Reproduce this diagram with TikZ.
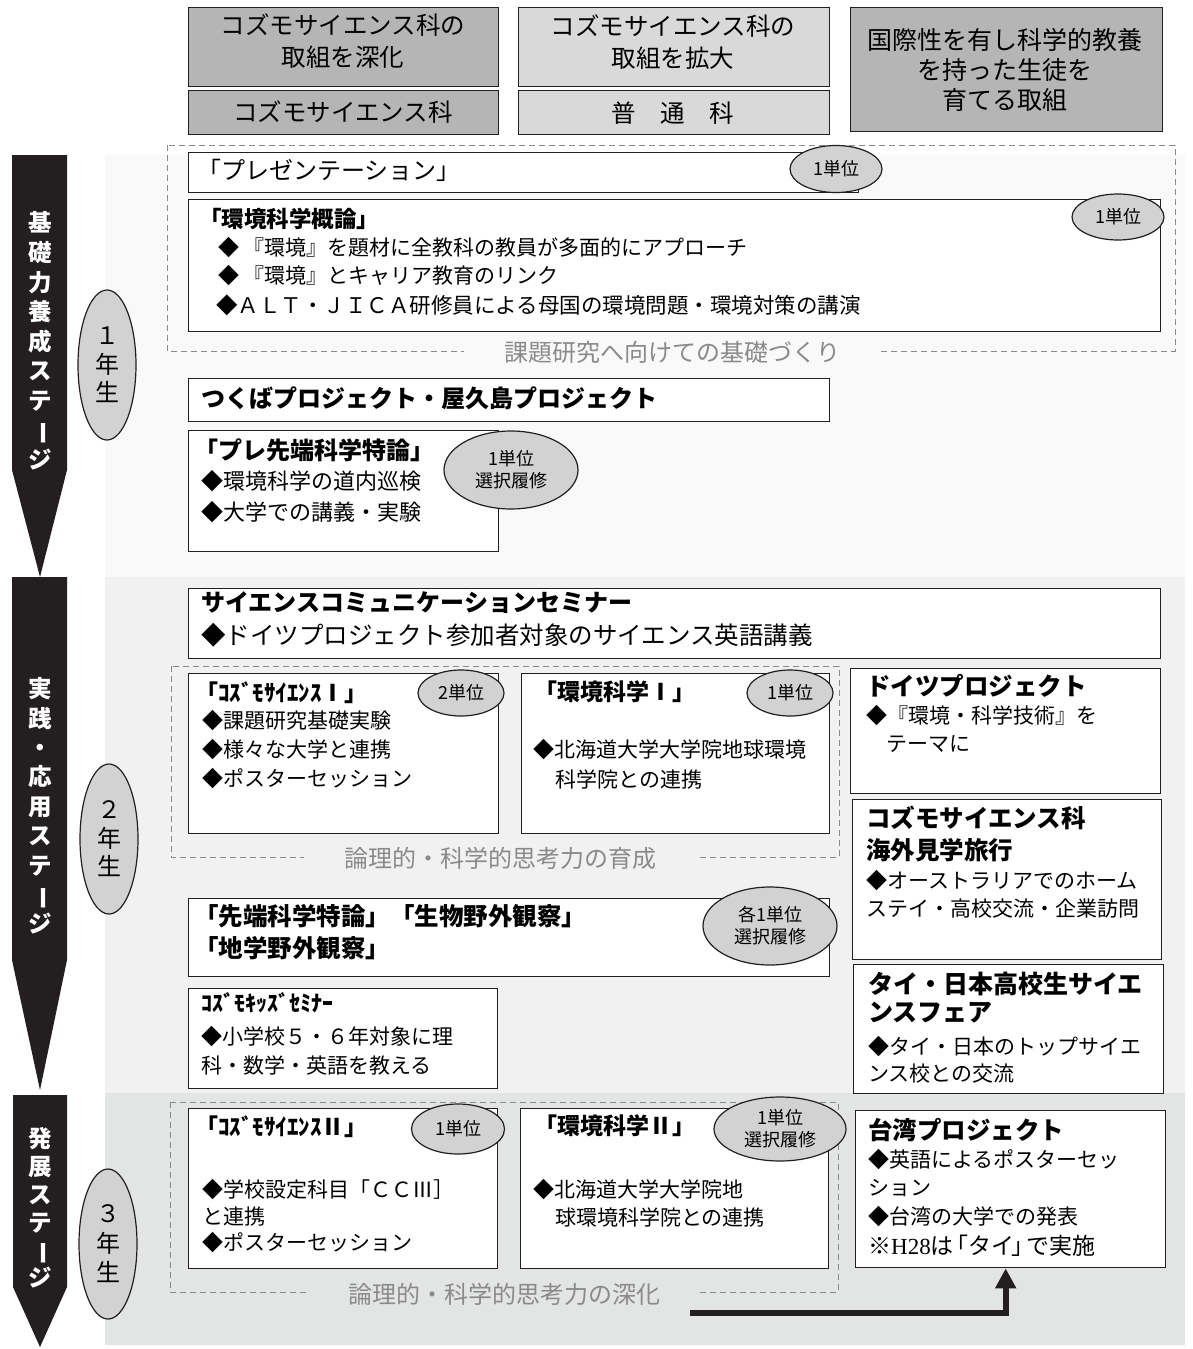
\documentclass[tikz,border=0pt]{standalone}
\usepackage{fontspec}
\setmainfont{Noto Sans CJK JP}
\newfontfamily\serifH{Liberation Serif}
\usetikzlibrary{shapes.geometric,arrows.meta}
\definecolor{ink}{HTML}{231F20}
\definecolor{hdark}{HTML}{B5B5B5}
\definecolor{hlight}{HTML}{D9D9D9}
\definecolor{egray}{HTML}{D2D2D2}
\definecolor{dgray}{HTML}{8A8A8A}
\definecolor{lgray}{HTML}{8A8A8A}
\definecolor{bandA}{HTML}{F9F9F9}
\definecolor{bandB}{HTML}{F1F1F1}
\definecolor{bandC}{HTML}{E3E4E4}
\tikzset{
 box/.style={draw=ink, line width=1.4pt, fill=white, inner sep=0pt, anchor=north west},
 dbox/.style={draw=dgray, line width=1pt, dash pattern=on 6pt off 4pt},
 unit/.style={ellipse, draw=ink, line width=1.2pt, fill=egray, inner sep=0pt, align=center, font=\fontsize{18}{22}\selectfont},
 yr/.style={ellipse, draw=ink, line width=1.2pt, fill=egray, inner sep=0pt, align=center, font=\fontsize{24}{28.5}\selectfont, minimum width=58pt, minimum height=150pt},
 stg/.style={text=white, align=center, inner sep=0pt, font=\bfseries\fontsize{23.5}{29.6}\selectfont},
 ttl/.style={anchor=west, inner sep=0pt, font=\bfseries\fontsize{24}{28}\selectfont},
 bul/.style={anchor=west, inner sep=0pt, font=\fontsize{21}{28}\selectfont},
 hdt/.style={inner sep=0pt, align=center, font=\fontsize{24.5}{32}\selectfont},
 lbl/.style={inner xsep=40pt, inner ysep=3pt, text=lgray, font=\fontsize{24}{28}\selectfont},
}
\newcommand\pbox[6][]{\node[box,#1, minimum width={#5pt-#3pt}, minimum height={#6pt-#4pt}] (#2) at (#3,#4) {};}
\newcommand\vbar{\rotatebox[origin=c]{-90}{ー}}
\begin{document}
\begin{tikzpicture}[x=1pt,y=-1pt]
\useasboundingbox (0,0) rectangle (1192,1349);
% bands
\fill[bandA] (105,155) rectangle (1185,577);
\fill[bandB] (105,577) rectangle (1185,1093);
\fill[bandC] (105,1093) rectangle (1185,1345);
% stage arrows
\fill[ink] (12,155) -- (67,155) -- (67,470) -- (40,577) -- (12,470) -- cycle;
\fill[ink] (12,577) -- (67,577) -- (67,960) -- (40,1090) -- (12,960) -- cycle;
\fill[ink] (13,1095) -- (67,1095) -- (67,1287) -- (40,1347) -- (13,1287) -- cycle;
\node[stg] (s1) at (40,341) {基\\礎\\力\\養\\成\\ス\\テ\\\vbar\\ジ};
\node[stg, font=\bfseries\fontsize{23.5}{29.4}\selectfont] (s2) at (40,806) {実\\践\\・\\応\\用\\ス\\テ\\\vbar\\ジ};
\node[stg, font=\bfseries\fontsize{23.5}{27.8}\selectfont] (s3) at (40,1208) {発\\展\\ス\\テ\\\vbar\\ジ};
% year ellipses
\node[yr] (y1) at (107,365) {１\\年\\生};
\node[yr] (y2) at (109,839) {２\\年\\生};
\node[yr, font=\fontsize{24}{29.5}\selectfont] (y3) at (108,1244) {３\\年\\生};
% header
\pbox[fill=hdark]{hA1}{188}{7}{498}{86}
\pbox[fill=hdark]{hA2}{188}{90}{498}{134}
\pbox[fill=hlight]{hB1}{518}{7}{829}{86}
\pbox[fill=hlight]{hB2}{518}{90}{829}{134}
\pbox[fill=hdark]{hC}{850}{7}{1162}{131}
\node[hdt] (tA1) at (343,41) {コズモサイエンス科の\\取組を深化};
\node[hdt] (tA2) at (343,112) {コズモサイエンス科};
\node[hdt] (tB1) at (673,42) {コズモサイエンス科の\\取組を拡大};
\node[hdt] (tB2) at (673,113) {普　通　科};
\node[hdt, font=\fontsize{25}{30}\selectfont] (tC) at (1005,70) {国際性を有し科学的教養\\を持った生徒を\\育てる取組};
% ===== 1st year
\draw[dbox] (167,145) rectangle (1175,351);
\pbox{pres}{188}{152}{858}{192}
\node[anchor=west, inner sep=0pt, font=\fontsize{24}{28}\selectfont] (presT) at (197,170) {「プレゼンテーション」};
\node[unit, minimum width=92pt, minimum height=47pt] (u1) at (836,169) {1単位};
\pbox{kgai}{188}{199}{1160}{331}
\node[ttl, font=\bfseries\fontsize{22.5}{28}\selectfont] (kgaiT) at (199,219) {「環境科学概論」};
\node[bul] (kg1) at (218,248) {◆ 『環境』を題材に全教科の教員が多面的にアプローチ};
\node[bul] (kg2) at (218,276) {◆ 『環境』とキャリア教育のリンク};
\node[bul, font=\fontsize{21.5}{28}\selectfont] (kg3) at (216,305) {◆ＡＬＴ・ＪＩＣＡ研修員による母国の環境問題・環境対策の講演};
\node[unit, minimum width=92pt, minimum height=46pt] (u2) at (1118,217) {1単位};
\node[lbl, fill=bandA] (l1) at (672,352) {課題研究へ向けての基礎づくり};
\pbox{tsuk}{188}{378}{829}{421}
\node[ttl] (tsukT) at (201,398) {つくばプロジェクト・屋久島プロジェクト};
\pbox{pre}{188}{430}{498}{551}
\node[ttl] (preT) at (194,450) {「プレ先端科学特論」};
\node[bul, font=\fontsize{22}{28}\selectfont] (pre1) at (201,481) {◆環境科学の道内巡検};
\node[bul, font=\fontsize{22}{28}\selectfont] (pre2) at (201,512) {◆大学での講義・実験};
\node[unit, minimum width=134pt, minimum height=78pt] (u3) at (511,470) {1単位\\選択履修};
% ===== 2nd year
\pbox{scs}{188}{588}{1160}{658}
\node[ttl] (scsT) at (201,603) {サイエンスコミュニケーションセミナー};
\node[bul, font=\fontsize{24.5}{28}\selectfont] (scs1) at (201,635) {◆ドイツプロジェクト参加者対象のサイエンス英語講義};
\draw[dbox] (171,666) rectangle (839,857);
\pbox{cs1}{188}{673}{498}{833}
\node[ttl, font=\bfseries\fontsize{23}{28}\selectfont] (cs1T) at (195,693) {「ｺｽﾞﾓｻｲｴﾝｽⅠ」};
\node[bul] (cs11) at (202,721) {◆課題研究基礎実験};
\node[bul] (cs12) at (202,750) {◆様々な大学と連携};
\node[bul] (cs13) at (202,779) {◆ポスターセッション};
\node[unit, minimum width=86pt, minimum height=46pt] (u4) at (461,693) {2単位};
\pbox{ks1}{521}{673}{829}{833}
\node[ttl, font=\bfseries\fontsize{23}{28}\selectfont] (ks1T) at (534,692) {「環境科学Ⅰ」};
\node[bul] (ks11) at (533,750) {◆北海道大学大学院地球環境};
\node[bul] (ks12) at (555,779) {科学院との連携};
\node[unit, minimum width=86pt, minimum height=46pt] (u5) at (790,693) {1単位};
\node[lbl, fill=bandB] (l2) at (500,858) {論理的・科学的思考力の育成};
\pbox{doi}{850}{668}{1160}{793}
\node[ttl, font=\bfseries\fontsize{24.5}{28}\selectfont] (doiT) at (866,686) {ドイツプロジェクト};
\node[bul] (doi1) at (866,716) {◆『環境・科学技術』を};
\node[bul] (doi2) at (886,744) {テーマに};
\pbox{kaigai}{852}{799}{1161}{959}
\node[ttl, font=\bfseries\fontsize{24.5}{28}\selectfont] (kgT1) at (866,818) {コズモサイエンス科};
\node[ttl, font=\bfseries\fontsize{24.5}{28}\selectfont] (kgT2) at (866,850) {海外見学旅行};
\node[bul] (kg21) at (866,881) {◆オーストラリアでのホーム};
\node[bul] (kg22) at (866,909) {ステイ・高校交流・企業訪問};
\pbox{thai}{853}{964}{1163}{1093}
\node[ttl, font=\bfseries\fontsize{25}{28}\selectfont] (thT1) at (868,984) {タイ・日本高校生サイエ};
\node[ttl, font=\bfseries\fontsize{25}{28}\selectfont] (thT2) at (868,1013) {ンスフェア};
\node[bul] (th1) at (868,1047) {◆タイ・日本のトップサイエ};
\node[bul] (th2) at (868,1074) {ンス校との交流};
\pbox{sentan}{188}{898}{829}{976}
\node[ttl, font=\bfseries\fontsize{24.5}{28}\selectfont] (snT1) at (194,916) {「先端科学特論」「生物野外観察」};
\node[ttl, font=\bfseries\fontsize{24.5}{28}\selectfont] (snT2) at (194,948) {「地学野外観察」};
\node[unit, minimum width=134pt, minimum height=78pt] (u6) at (770,926) {各1単位\\選択履修};
\pbox{kids}{188}{988}{497}{1088}
\node[ttl, font=\bfseries\fontsize{22}{28}\selectfont] (kidsT) at (201,1003) {ｺｽﾞﾓｷｯｽﾞｾﾐﾅｰ};
\node[bul] (kids1) at (201,1037) {◆小学校５・６年対象に理};
\node[bul] (kids2) at (201,1065) {科・数学・英語を教える};
% ===== 3rd year
\draw[dbox] (170,1102) rectangle (838,1292);
\pbox{cs2}{188}{1108}{497}{1268}
\node[ttl, font=\bfseries\fontsize{23}{28}\selectfont] (cs2T) at (195,1127) {「ｺｽﾞﾓｻｲｴﾝｽⅡ」};
\node[bul] (cs21) at (202,1190) {◆学校設定科目「ＣＣⅢ］};
\node[bul] (cs22) at (202,1217) {と連携};
\node[bul] (cs23) at (202,1243) {◆ポスターセッション};
\node[unit, minimum width=93pt, minimum height=50pt] (u7) at (458,1129) {1単位};
\pbox{ks2}{520}{1108}{828}{1268}
\node[ttl, font=\bfseries\fontsize{23}{28}\selectfont] (ks2T) at (534,1126) {「環境科学Ⅱ」};
\node[bul] (ks21) at (533,1190) {◆北海道大学大学院地};
\node[bul] (ks22) at (555,1217) {球環境科学院との連携};
\node[unit, minimum width=132pt, minimum height=64pt] (u8) at (780,1129) {1単位\\選択履修};
\node[lbl, fill=bandC] (l3) at (504,1294) {論理的・科学的思考力の深化};
\pbox{taiwan}{855}{1110}{1165}{1267}
\node[ttl, font=\bfseries\fontsize{24.5}{28}\selectfont] (twT) at (868,1130) {台湾プロジェクト};
\node[bul] (tw1) at (868,1160) {◆英語によるポスターセッ};
\node[bul] (tw2) at (868,1188) {ション};
\node[bul] (tw3) at (868,1217) {◆台湾の大学での発表};
\node[bul, font=\fontsize{23}{28}\selectfont] (tw4) at (868,1246) {※{\serifH H28}は\kern-8pt「タイ\kern-3pt」\kern-8pt で実施};
% connector
\coordinate (astart) at (690,1313);
\draw[ink, line width=6pt, -{Triangle[length=20pt,width=20pt]}] (astart) -| ([xshift=-5pt]taiwan.south);
\end{tikzpicture}
\end{document}
